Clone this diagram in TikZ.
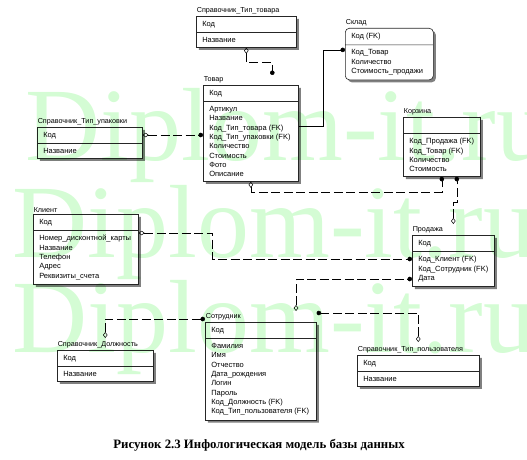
\documentclass[tikz,border=0pt]{standalone}
\usepackage{fontspec}
\setmainfont{Liberation Serif}
\setsansfont{Liberation Sans}
\usetikzlibrary{arrows.meta,positioning,shapes.multipart,shadows}
\definecolor{wmgreen}{RGB}{212,252,212}

\begin{document}
\begin{tikzpicture}[
  x=1pt, y=-1pt,
  font=\sffamily\fontsize{7.5}{9.3}\selectfont,
  ent/.style={rectangle split,rectangle split parts=2,rectangle split part align=left,draw=black!85,fill=white,line width=0.6pt,anchor=north west,align=left,inner xsep=6pt,inner ysep=4.5pt,drop shadow={shadow xshift=2.5pt,shadow yshift=-2.5pt,fill=black!50,opacity=1}},
  dep/.style={ent,rounded corners=4pt},
  etitle/.style={inner sep=0.6pt,font=\sffamily\fontsize{7.2}{8}\selectfont},
  nonid/.style={line width=0.5pt,dash pattern=on 9pt off 3.5pt,arrows={Diamond[open,length=6pt,width=4.5pt]-Circle[length=4.5pt]}},
  ident/.style={line width=0.5pt,-{Circle[length=4.5pt]}},
  wmark/.style={inner sep=0pt,anchor=base west,text=wmgreen,font=\fontsize{104}{104}\selectfont},
]
\useasboundingbox (0,0) rectangle (527,460);

% top: goods and their lookups
\node[ent,minimum width=100pt] (spt) at (196,16) {Код\nodepart{two}Название};
\node[etitle,above right=1pt and 0pt of spt.north west] (spt-t) {Справочник\_Тип\_товара};

\node[dep,minimum width=88pt] (sklad) at (345,28) {Код (FK)\nodepart{two}Код\_Товар\\Количество\\Стоимость\_продажи};
\node[etitle,above right=1pt and 0pt of sklad.north west] (sklad-t) {Склад};

\node[ent,minimum width=95pt] (tovar) at (203,85) {Код\nodepart{two}Артикул\\Название\\Код\_Тип\_товара (FK)\\Код\_Тип\_упаковки (FK)\\Количество\\Стоимость\\Фото\\Описание};
\node[etitle,above right=1pt and 0pt of tovar.north west] (tovar-t) {Товар};

\node[ent,minimum width=105pt] (sup) at (37,127) {Код\nodepart{two}Название};
\node[etitle,above right=1pt and 0pt of sup.north west] (sup-t) {Справочник\_Тип\_упаковки};

\node[ent,minimum width=77pt] (korzina) at (403,117) {\vphantom{Код}\nodepart{two}Код\_Продажа (FK)\\Код\_Товар (FK)\\Количество\\Стоимость};
\node[etitle,above right=1pt and 0pt of korzina.north west] (korzina-t) {Корзина};

% middle: clients and sales
\node[ent,minimum width=105pt] (klient) at (33,214) {Код\nodepart{two}Номер\_дисконтной\_карты\\Название\\Телефон\\Адрес\\Реквизиты\_счета};
\node[etitle,above right=1pt and 0pt of klient.north west] (klient-t) {Клиент};

\node[ent,minimum width=82pt] (prodazha) at (412,235) {Код\nodepart{two}Код\_Клиент (FK)\\Код\_Сотрудник (FK)\\Дата};
\node[etitle,above right=1pt and 0pt of prodazha.north west] (prodazha-t) {Продажа};

% bottom: staff and its lookups
\node[ent,minimum width=96pt] (dolzh) at (57,350) {Код\nodepart{two}Название};
\node[etitle,above right=1pt and 0pt of dolzh.north west] (dolzh-t) {Справочник\_Должность};

\node[ent,minimum width=111pt] (sotr) at (205,322) {Код\nodepart{two}Фамилия\\Имя\\Отчество\\Дата\_рождения\\Логин\\Пароль\\Код\_Должность (FK)\\Код\_Тип\_пользователя (FK)};
\node[etitle,above right=1pt and 0pt of sotr.north west] (sotr-t) {Сотрудник};

\node[ent,minimum width=122pt] (stp) at (357,355) {Код\nodepart{two}Название};
\node[etitle,above right=1pt and 0pt of stp.north west] (stp-t) {Справочник\_Тип\_пользователя};

% relationships
\draw[nonid] (spt.south) -- ++(0,15) -| ([xshift=21.5pt,yshift=10pt]tovar.north);
\draw[ident] ([yshift=-41pt]tovar.north east) -- ++(25,0) |- ([yshift=-5pt]sklad.text split west);
\draw[nonid] ([yshift=-8pt]sup.north east) -- ([yshift=-50pt]tovar.north west);
\draw[nonid] (tovar.south) -- ++(0,10) -| (korzina.south);
\draw[nonid] ([yshift=11pt]prodazha.north) -- ++(0,-22) -| ([xshift=15pt]korzina.south);
\draw[nonid] ([yshift=-19pt]klient.north east) -- ++(74,0) |- ([yshift=-24pt]prodazha.north west);
\draw[nonid] ([xshift=91pt,yshift=11pt]sotr.north west) |- ([yshift=-44pt]prodazha.north west);
\draw[nonid] ([yshift=12pt]dolzh.north) |- ([yshift=3pt]sotr.north west);
\draw[nonid] ([yshift=13pt]stp.north) |- ([yshift=9pt]sotr.north east);

% caption
\node[font=\bfseries\fontsize{12.8}{14}\selectfont,anchor=base] (caption) at (259,448) {Рисунок 2.3 Инфологическая модель базы данных};

% watermark
\begin{scope}[blend mode=multiply]
\node[wmark] (wm1) at (25,160) {Diplom-it.ru};
\node[wmark] (wm2) at (12,257) {Diplom-it.ru};
\node[wmark] (wm3) at (12,352) {Diplom-it.ru};
\end{scope}

\end{tikzpicture}
\end{document}
